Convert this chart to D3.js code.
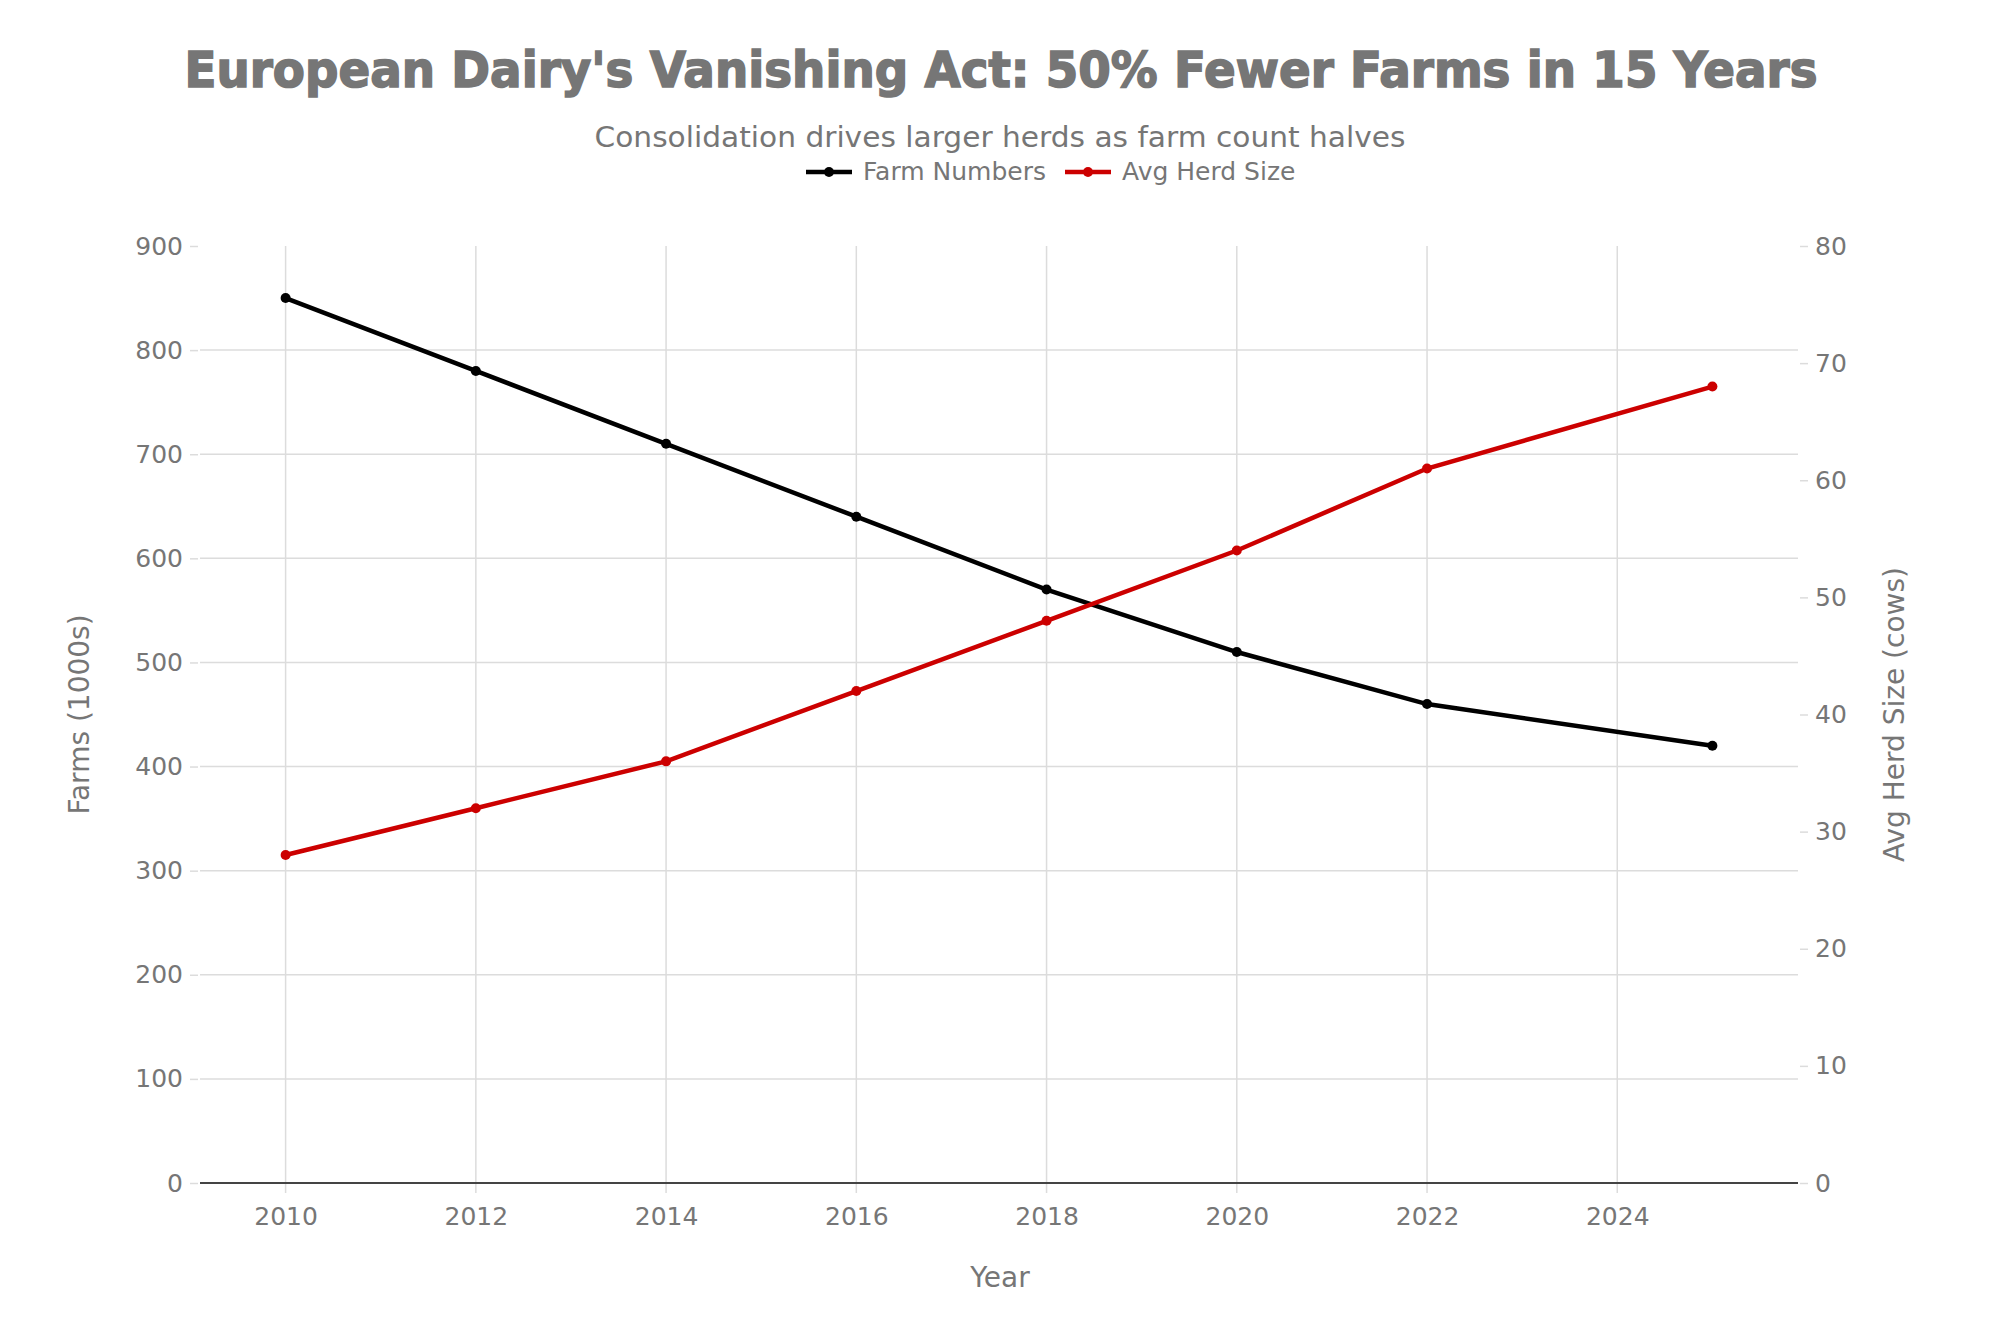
<!DOCTYPE html>
<html>
  <head>
    <script src="https://d3js.org/d3.v7.min.js"></script>
    <style>
      body { margin: 0; background: #fff; }
      text { font-family: "DejaVu Sans", sans-serif; fill: #767676; }
    </style>
  </head>
  <body>
    <div id="chart"></div>

    <script>
      const years = [2010, 2012, 2014, 2016, 2018, 2020, 2022, 2025];
      const farmNumbers = [850, 780, 710, 640, 570, 510, 460, 420];
      const herdSize = [28, 32, 36, 42, 48, 54, 61, 68];
      const xTicks = [2010, 2012, 2014, 2016, 2018, 2020, 2022, 2024];
      const leftTicks = [0, 100, 200, 300, 400, 500, 600, 700, 800, 900];
      const rightTicks = [0, 10, 20, 30, 40, 50, 60, 70, 80];

      const width = 2000;
      const height = 1333;
      const margin = { top: 246, right: 202, bottom: 150, left: 200 };
      const innerW = width - margin.left - margin.right;
      const innerH = height - margin.top - margin.bottom;

      const svg = d3.select("#chart")
        .append("svg")
        .attr("width", width)
        .attr("height", height);

      const chart = svg.append("g")
        .attr("transform", `translate(${margin.left}, ${margin.top})`);

      const xScale = d3.scaleLinear()
        .domain([2009.1, 2025.9])
        .range([0, innerW]);
      const yLeft = d3.scaleLinear()
        .domain([0, 900])
        .range([innerH, 0]);
      const yRight = d3.scaleLinear()
        .domain([0, 80])
        .range([innerH, 0]);

      // grid
      chart.append("g")
        .selectAll("line")
        .data(leftTicks.filter(d => d > 0 && d < 900))
        .enter()
        .append("line")
        .attr("x1", 0)
        .attr("x2", innerW)
        .attr("y1", d => yLeft(d))
        .attr("y2", d => yLeft(d))
        .attr("stroke", "#dcdcdc")
        .attr("stroke-width", 1.5);
      chart.append("g")
        .selectAll("line")
        .data(xTicks)
        .enter()
        .append("line")
        .attr("x1", d => xScale(d))
        .attr("x2", d => xScale(d))
        .attr("y1", 0)
        .attr("y2", innerH + 10)
        .attr("stroke", "#dcdcdc")
        .attr("stroke-width", 1.5);

      // axes
      const xAxis = chart.append("g")
        .attr("transform", `translate(0, ${innerH})`)
        .call(d3.axisBottom(xScale).tickValues(xTicks).tickFormat(d3.format("d")).tickSize(0).tickPadding(24));
      xAxis.select(".domain").remove();
      xAxis.selectAll("text").style("font-size", "25px").style("fill", "#767676");

      chart.append("line")
        .attr("x1", 0)
        .attr("x2", innerW)
        .attr("y1", innerH)
        .attr("y2", innerH)
        .attr("stroke", "#444")
        .attr("stroke-width", 2);

      const leftAxis = chart.append("g")
        .attr("transform", "translate(-2, 0)")
        .call(d3.axisLeft(yLeft).tickValues(leftTicks).tickSize(8).tickPadding(7));
      leftAxis.select(".domain").remove();
      leftAxis.selectAll("line").attr("stroke", "#dcdcdc").attr("stroke-width", 1.5);
      leftAxis.selectAll("text").style("font-size", "25px").style("fill", "#767676");

      const rightAxis = chart.append("g")
        .attr("transform", `translate(${innerW + 2}, 0)`)
        .call(d3.axisRight(yRight).tickValues(rightTicks).tickSize(8).tickPadding(7));
      rightAxis.select(".domain").remove();
      rightAxis.selectAll("line").attr("stroke", "#dcdcdc").attr("stroke-width", 1.5);
      rightAxis.selectAll("text").style("font-size", "25px").style("fill", "#767676");

      // lines
      const farmData = years.map((y, i) => ({ year: y, value: farmNumbers[i] }));
      const herdData = years.map((y, i) => ({ year: y, value: herdSize[i] }));

      chart.append("path")
        .datum(farmData)
        .attr("fill", "none")
        .attr("stroke", "#000")
        .attr("stroke-width", 4.5)
        .attr("d", d3.line().x(d => xScale(d.year)).y(d => yLeft(d.value)));
      chart.selectAll(".farm-dot")
        .data(farmData)
        .enter()
        .append("circle")
        .attr("class", "farm-dot")
        .attr("cx", d => xScale(d.year))
        .attr("cy", d => yLeft(d.value))
        .attr("r", 5)
        .attr("fill", "#000");

      chart.append("path")
        .datum(herdData)
        .attr("fill", "none")
        .attr("stroke", "#cc0000")
        .attr("stroke-width", 4.5)
        .attr("d", d3.line().x(d => xScale(d.year)).y(d => yRight(d.value)));
      chart.selectAll(".herd-dot")
        .data(herdData)
        .enter()
        .append("circle")
        .attr("class", "herd-dot")
        .attr("cx", d => xScale(d.year))
        .attr("cy", d => yRight(d.value))
        .attr("r", 5)
        .attr("fill", "#cc0000");

      // titles
      svg.append("text")
        .attr("x", 1001)
        .attr("y", 87)
        .style("text-anchor", "middle")
        .style("font-size", "49px")
        .style("font-weight", "bold")
        .style("stroke", "#767676")
        .style("stroke-width", "1.6px")
        .attr("textLength", 1633)
        .attr("lengthAdjust", "spacingAndGlyphs")
        .text("European Dairy's Vanishing Act: 50% Fewer Farms in 15 Years");
      svg.append("text")
        .attr("x", 1000)
        .attr("y", 147)
        .style("text-anchor", "middle")
        .style("font-size", "28px")
        .attr("textLength", 811)
        .attr("lengthAdjust", "spacingAndGlyphs")
        .text("Consolidation drives larger herds as farm count halves");

      // legend
      const legend = [
        { name: "Farm Numbers", color: "#000", x: 806 },
        { name: "Avg Herd Size", color: "#cc0000", x: 1065 }
      ];
      const lg = svg.append("g").selectAll("g")
        .data(legend)
        .enter()
        .append("g")
        .attr("transform", d => `translate(${d.x}, 172)`);
      lg.append("line")
        .attr("x1", 0).attr("x2", 46)
        .attr("stroke", d => d.color)
        .attr("stroke-width", 4.5);
      lg.append("circle")
        .attr("cx", 23).attr("r", 5)
        .attr("fill", d => d.color);
      lg.append("text")
        .attr("x", 57)
        .attr("y", 8)
        .style("font-size", "25px")
        .text(d => d.name);

      // axis titles
      svg.append("text")
        .attr("x", 1000)
        .attr("y", 1287)
        .style("text-anchor", "middle")
        .style("font-size", "28px")
        .text("Year");
      svg.append("text")
        .attr("transform", "rotate(-90)")
        .attr("x", -(margin.top + innerH / 2))
        .attr("y", 89)
        .style("text-anchor", "middle")
        .style("font-size", "28px")
        .text("Farms (1000s)");
      svg.append("text")
        .attr("transform", "rotate(-90)")
        .attr("x", -(margin.top + innerH / 2))
        .attr("y", 1904)
        .style("text-anchor", "middle")
        .style("font-size", "28px")
        .text("Avg Herd Size (cows)");
    </script>
  </body>
</html>
